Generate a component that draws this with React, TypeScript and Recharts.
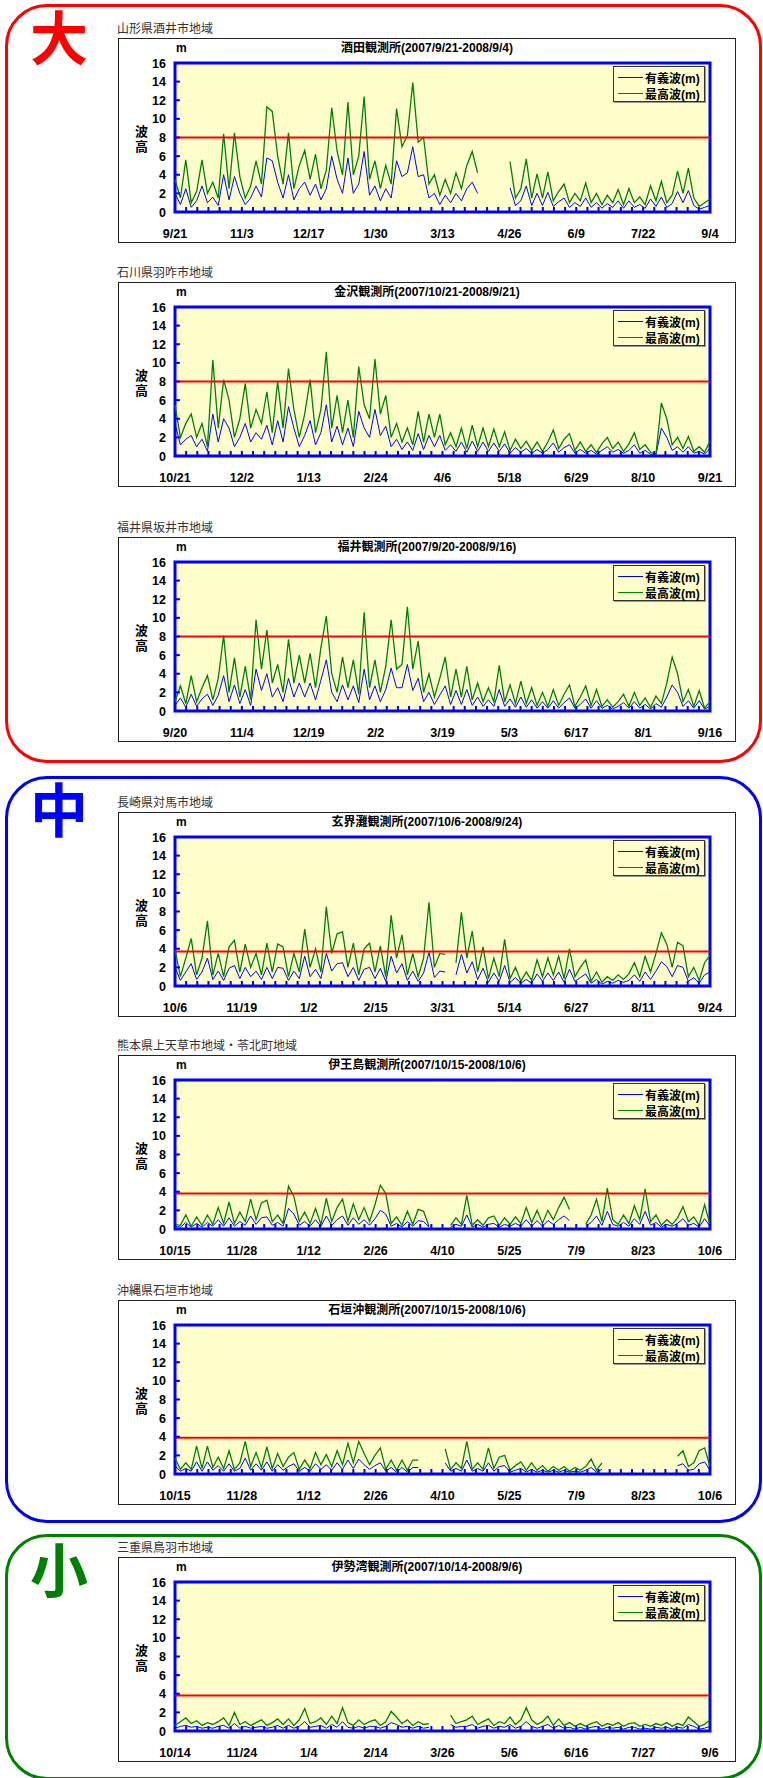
import React from 'react';
import { LineChart, Line, XAxis, YAxis, CartesianGrid, ReferenceLine, ReferenceArea, Legend } from 'recharts';

const FONT = "'Liberation Sans', 'Noto Sans CJK JP', sans-serif";
const JP = "'Noto Sans CJK JP', sans-serif";

const yTicks = [0, 2, 4, 6, 8, 10, 12, 14, 16];
const seriesNames = ['有義波(m)', '最高波(m)'];
const seriesColors = ['#0000ff', '#008000'];

// 酒田
const labels1 = ['9/21', '11/3', '12/17', '1/30', '3/13', '4/26', '6/9', '7/22', '9/4'];
const max1 = [3.5,1.5,5.6,1.0,2.2,5.6,2.0,3.2,1.5,8.4,2.5,8.5,3.8,1.5,2.8,5.5,3.0,11.3,10.8,6.0,3.0,8.5,2.5,5.0,6.6,3.5,6.2,2.5,4.5,11.2,6.5,4.0,11.8,4.0,6.0,12.4,3.5,5.5,2.5,5.0,3.0,11.1,7.0,8.2,13.9,7.5,8.0,3.0,4.0,1.8,3.5,2.0,4.2,2.5,5.0,6.5,4.2,null,null,null,null,null,5.4,1.5,2.5,5.7,1.5,4.1,1.5,4.3,1.2,2.2,3.0,1.0,2.0,1.2,3.1,1.0,2.0,0.8,1.8,1.0,2.4,0.8,2.5,1.0,1.6,0.8,2.8,1.2,3.3,1.0,1.8,4.4,2.0,4.7,1.5,0.6,1.0,1.4];
const sig1 = [2.0,0.8,2.5,0.5,1.2,2.8,1.0,1.6,0.7,4.0,1.3,3.8,2.0,0.8,1.5,2.8,1.6,5.8,5.5,3.2,1.5,4.0,1.3,2.5,3.2,1.8,3.0,1.3,2.5,6.0,3.5,2.0,5.8,2.0,3.0,6.5,1.8,2.8,1.2,2.5,1.5,5.5,3.8,4.2,7.0,3.8,4.0,1.5,2.0,0.8,1.8,1.0,2.0,1.2,2.5,3.2,2.0,null,null,null,null,null,2.6,0.7,1.2,2.8,0.7,2.0,0.7,2.1,0.6,1.1,1.5,0.5,1.0,0.6,1.5,0.5,1.0,0.4,0.9,0.5,1.2,0.4,1.2,0.5,0.8,0.4,1.4,0.6,1.6,0.5,0.9,2.2,1.0,2.3,0.7,0.3,0.5,0.7];

// 金沢
const labels2 = ['10/21', '12/2', '1/13', '2/24', '4/6', '5/18', '6/29', '8/10', '9/21'];
const max2 = [5.5,2.0,3.5,4.5,2.0,3.5,1.0,10.3,3.0,8.2,6.0,2.0,4.0,7.8,3.0,5.0,3.5,6.9,2.5,8.0,3.0,9.4,5.0,2.0,4.5,8.2,2.5,5.0,11.2,3.0,6.5,2.5,6.0,2.0,9.6,5.5,4.0,10.4,4.5,6.5,2.0,3.5,1.5,3.0,1.2,4.8,1.5,4.5,2.0,4.5,1.2,2.5,1.0,3.0,0.8,3.3,1.0,3.0,1.0,2.9,1.0,2.6,0.6,1.8,0.8,1.6,0.6,1.5,0.5,1.5,2.8,0.8,1.8,2.4,0.6,1.5,0.5,1.2,0.4,1.3,2.0,0.8,1.5,0.5,1.3,2.5,0.7,1.2,0.4,0.2,5.7,4.0,1.2,2.0,0.8,2.1,0.5,1.0,0.4,1.6];
const sig2 = [3.5,1.2,1.8,2.2,1.0,1.8,0.5,4.5,1.5,4.0,3.0,1.0,2.0,3.5,1.5,2.5,1.8,3.3,1.2,3.8,1.5,5.3,3.0,1.0,2.2,3.8,1.2,2.5,5.5,1.5,3.2,1.2,3.0,1.0,4.8,3.0,2.0,5.0,2.2,3.2,1.0,1.8,0.7,1.5,0.6,2.4,0.7,2.2,1.0,2.2,0.6,1.2,0.5,1.5,0.4,1.6,0.5,1.5,0.5,1.4,0.5,1.3,0.3,0.9,0.4,0.8,0.3,0.7,0.3,0.7,1.4,0.4,0.9,1.2,0.3,0.7,0.3,0.6,0.2,0.6,1.0,0.4,0.7,0.3,0.6,1.2,0.3,0.6,0.2,0.1,3.0,2.0,0.6,1.0,0.4,1.0,0.3,0.5,0.2,0.8];

// 福井
const labels3 = ['9/20', '11/4', '12/19', '2/2', '3/19', '5/3', '6/17', '8/1', '9/16'];
const max3 = [1.0,2.7,0.8,3.8,1.0,2.5,3.8,1.2,3.5,8.1,2.0,5.7,1.5,4.8,1.2,9.8,4.5,8.7,3.0,5.0,2.0,7.7,3.0,6.0,3.0,6.2,2.5,6.8,10.2,4.0,2.0,5.8,2.5,5.5,1.8,10.6,2.5,5.5,2.0,4.8,9.8,4.5,5.0,11.2,4.5,7.5,2.0,4.0,1.5,3.5,5.8,1.5,4.5,1.5,4.8,1.2,3.0,1.0,2.5,1.0,4.9,1.0,2.8,0.8,3.2,0.8,2.5,0.6,2.0,0.5,2.3,0.6,1.8,2.8,0.5,1.5,2.7,0.6,2.3,0.5,1.2,0.4,1.0,1.8,0.5,2.0,0.6,1.4,0.4,1.6,0.8,3.0,5.8,4.0,1.0,2.3,0.5,2.2,0.3,1.0];
const sig3 = [0.6,1.4,0.4,1.8,0.5,1.3,1.8,0.6,1.7,3.8,1.0,2.8,0.8,2.3,0.6,4.5,2.2,4.0,1.5,2.5,1.0,3.5,1.5,3.0,1.5,3.0,1.2,3.3,5.5,2.0,1.0,2.8,1.2,2.7,0.9,4.5,1.2,2.7,1.0,2.3,4.6,2.5,2.5,5.0,2.2,3.5,1.0,2.0,0.7,1.7,2.7,0.7,2.2,0.7,2.3,0.6,1.5,0.5,1.2,0.5,2.3,0.5,1.3,0.4,1.5,0.4,1.2,0.3,1.0,0.3,1.1,0.3,0.9,1.4,0.3,0.7,1.3,0.3,1.1,0.3,0.6,0.2,0.5,0.9,0.3,1.0,0.3,0.7,0.2,0.8,0.4,1.5,2.8,2.0,0.5,1.1,0.3,1.1,0.2,0.5];

// 玄界灘
const labels4 = ['10/6', '11/19', '1/2', '2/15', '3/31', '5/14', '6/27', '8/11', '9/24'];
const max4 = [3.9,1.0,3.0,5.1,1.2,3.0,7.0,1.2,3.5,1.0,4.2,4.9,1.5,4.5,2.0,3.5,1.2,4.6,1.5,4.5,4.2,1.0,3.5,1.5,6.1,2.0,4.0,1.5,8.5,3.5,5.6,5.8,2.0,4.6,1.2,4.0,4.6,1.5,4.3,1.0,7.6,3.0,5.5,1.2,3.5,1.0,3.0,9.0,2.0,3.5,3.4,null,2.5,7.9,3.0,5.9,1.5,4.2,0.8,3.0,1.0,5.0,0.8,2.0,0.5,1.5,0.6,2.8,1.0,3.0,1.2,3.2,0.8,4.0,1.0,2.0,2.8,0.5,1.5,0.4,1.0,0.6,1.2,0.7,1.3,2.5,1.0,3.2,1.5,3.5,5.7,4.5,2.0,4.7,4.3,1.0,2.0,0.6,2.5,3.3];
const sig4 = [2.0,0.6,1.5,2.4,0.7,1.5,3.0,0.7,1.6,0.6,1.9,2.2,0.8,2.0,1.0,1.6,0.7,2.0,0.8,2.0,1.9,0.6,1.6,0.8,3.2,1.0,1.8,0.8,3.5,1.6,2.4,2.5,1.0,2.0,0.6,1.8,2.0,0.8,1.9,0.5,3.2,1.4,2.4,0.6,1.6,0.5,1.4,3.6,0.9,1.6,1.5,null,1.2,3.4,1.4,2.6,0.7,1.9,0.4,1.4,0.5,2.2,0.4,0.9,0.3,0.7,0.3,1.3,0.5,1.4,0.6,1.5,0.4,1.8,0.5,0.9,1.3,0.3,0.7,0.2,0.5,0.3,0.6,0.4,0.6,1.2,0.5,1.5,0.7,1.6,2.6,2.1,1.0,2.2,2.0,0.5,0.9,0.3,1.2,1.5];

// 伊王島
const labels5 = ['10/15', '11/28', '1/12', '2/26', '4/10', '5/25', '7/9', '8/23', '10/6'];
const max5 = [0.5,0.4,1.5,0.3,1.3,0.4,1.5,0.5,2.3,0.6,2.9,0.6,1.8,0.8,3.2,1.0,2.8,3.1,0.8,1.5,0.6,4.6,3.5,0.8,1.8,0.6,2.2,0.5,3.3,0.8,2.3,3.2,0.8,2.7,1.0,2.3,0.8,2.6,4.7,3.8,0.6,1.3,0.4,1.9,0.5,2.1,1.9,0.3,null,null,null,0.4,1.2,0.5,3.6,0.4,1.0,0.4,1.2,1.4,0.4,1.2,0.5,1.3,0.6,2.3,0.7,2.0,0.6,2.0,1.0,2.3,3.4,2.1,null,null,0.5,1.5,3.2,0.8,4.4,1.0,0.5,1.5,0.6,2.5,1.0,4.3,0.8,1.5,0.4,1.0,0.5,1.2,2.4,0.8,1.3,0.4,2.6,0.5];
const sig5 = [0.3,0.2,0.7,0.2,0.6,0.2,0.7,0.3,1.0,0.3,1.2,0.3,0.8,0.4,1.4,0.5,1.2,1.3,0.4,0.7,0.3,2.2,1.6,0.4,0.8,0.3,1.0,0.3,1.4,0.4,1.0,1.4,0.4,1.2,0.5,1.0,0.4,1.1,2.0,1.6,0.3,0.6,0.2,0.8,0.3,0.9,0.8,0.2,null,null,null,0.2,0.5,0.3,1.5,0.2,0.5,0.2,0.5,0.6,0.2,0.5,0.3,0.6,0.3,1.0,0.3,0.9,0.3,0.9,0.5,1.0,1.4,0.9,null,null,0.3,0.7,1.4,0.4,1.9,0.5,0.3,0.7,0.3,1.1,0.5,1.9,0.4,0.7,0.2,0.5,0.3,0.6,1.1,0.4,0.6,0.2,1.1,0.3];

// 石垣沖
const labels6 = ['10/15', '11/28', '1/12', '2/26', '4/10', '5/25', '7/9', '8/23', '10/6'];
const max6 = [1.7,0.5,1.2,0.5,3.0,0.6,3.0,0.7,1.8,0.6,2.5,0.5,1.2,3.5,0.8,2.3,0.7,2.9,0.6,2.2,0.8,1.8,2.3,0.5,1.5,0.6,2.3,1.0,2.1,0.8,2.5,1.0,3.3,1.2,3.5,2.2,1.0,2.0,2.8,0.5,1.5,0.4,1.5,0.4,1.5,1.5,null,null,null,null,2.7,0.5,1.2,0.6,3.5,0.5,1.2,0.5,2.8,0.6,1.8,2.0,0.4,0.9,1.3,0.4,1.2,0.4,0.9,0.3,0.8,0.4,0.8,0.3,0.7,0.4,0.8,1.6,0.4,1.2,null,null,null,null,null,null,null,null,null,null,null,null,null,1.9,2.5,0.8,1.2,2.5,2.8,0.8];
const sig6 = [0.9,0.3,0.6,0.3,1.3,0.3,1.3,0.4,0.9,0.3,1.1,0.3,0.6,1.7,0.4,1.1,0.4,1.3,0.3,1.0,0.4,0.8,1.1,0.3,0.7,0.3,1.1,0.5,1.0,0.4,1.2,0.5,1.5,0.6,1.6,1.0,0.5,0.9,1.2,0.3,0.7,0.2,0.7,0.2,0.7,0.7,null,null,null,null,1.2,0.3,0.6,0.3,1.5,0.3,0.6,0.3,1.2,0.3,0.8,0.9,0.2,0.4,0.6,0.2,0.5,0.2,0.4,0.2,0.4,0.2,0.4,0.2,0.3,0.2,0.4,0.7,0.2,0.5,null,null,null,null,null,null,null,null,null,null,null,null,null,0.9,1.1,0.4,0.5,1.1,1.3,0.4];

// 伊勢湾
const labels7 = ['10/14', '11/24', '1/4', '2/14', '3/26', '5/6', '6/16', '7/27', '9/6'];
const max7 = [0.6,1.0,1.4,0.8,1.1,0.6,0.9,0.7,1.0,1.4,0.6,2.0,0.7,1.0,0.6,0.9,1.2,0.6,0.9,1.3,0.7,1.3,0.6,1.2,2.4,0.8,1.0,1.4,0.7,1.6,0.8,2.5,0.9,0.6,1.2,0.7,1.0,1.2,0.6,1.0,2.1,1.5,0.8,1.2,0.6,1.0,0.7,0.8,null,null,null,1.7,0.8,1.0,1.2,1.6,0.7,1.0,1.3,0.6,1.0,0.8,1.5,0.7,1.2,2.5,1.2,0.7,1.0,1.6,0.6,1.3,0.6,0.9,0.5,0.8,0.5,0.8,1.0,0.5,0.8,0.6,0.9,0.5,0.8,0.9,0.5,0.7,0.5,0.8,0.6,0.9,0.5,0.8,0.6,1.5,1.0,0.5,0.7,1.2];
const sig7 = [0.3,0.5,0.6,0.4,0.5,0.3,0.4,0.3,0.5,0.6,0.3,0.8,0.3,0.5,0.3,0.4,0.5,0.3,0.4,0.6,0.3,0.6,0.3,0.5,1.0,0.4,0.5,0.6,0.3,0.7,0.4,1.0,0.4,0.3,0.5,0.3,0.5,0.5,0.3,0.5,0.9,0.7,0.4,0.5,0.3,0.5,0.3,0.4,null,null,null,0.7,0.4,0.5,0.5,0.7,0.3,0.5,0.6,0.3,0.5,0.4,0.7,0.3,0.5,1.0,0.5,0.3,0.5,0.7,0.3,0.6,0.3,0.4,0.2,0.4,0.2,0.4,0.5,0.2,0.4,0.3,0.4,0.2,0.4,0.4,0.2,0.3,0.2,0.4,0.3,0.4,0.2,0.4,0.3,0.7,0.5,0.2,0.3,0.5];

const charts = [
  { top: 38, region: '山形県酒井市地域', title: '酒田観測所(2007/9/21-2008/9/4)', labels: labels1, sig: sig1, max: max1, limit: 8 },
  { top: 282, region: '石川県羽咋市地域', title: '金沢観測所(2007/10/21-2008/9/21)', labels: labels2, sig: sig2, max: max2, limit: 8 },
  { top: 537, region: '福井県坂井市地域', title: '福井観測所(2007/9/20-2008/9/16)', labels: labels3, sig: sig3, max: max3, limit: 8 },
  { top: 812, region: '長崎県対馬市地域', title: '玄界灘観測所(2007/10/6-2008/9/24)', labels: labels4, sig: sig4, max: max4, limit: 3.7 },
  { top: 1055, region: '熊本県上天草市地域・苓北町地域', title: '伊王島観測所(2007/10/15-2008/10/6)', labels: labels5, sig: sig5, max: max5, limit: 3.8 },
  { top: 1300, region: '沖縄県石垣市地域', title: '石垣沖観測所(2007/10/15-2008/10/6)', labels: labels6, sig: sig6, max: max6, limit: 3.9 },
  { top: 1557, region: '三重県鳥羽市地域', title: '伊勢湾観測所(2007/10/14-2008/9/6)', labels: labels7, sig: sig7, max: max7, limit: 3.8 },
];

function YTick(props: any) {
  const { x, y, payload } = props;
  return (
    <g>
      <line x1={x} y1={y} x2={x + 5} y2={y} stroke="#0000ff" strokeWidth={2} />
      <text x={x - 9} y={y} dy={4.5} textAnchor="end" fontSize={12.5} fontWeight="bold" fill="#000" fontFamily={FONT}>
        {payload.value}
      </text>
    </g>
  );
}

// legend keeps the sheet's order: 有義波 then 最高波
function LegendBox() {
  return (
    <div style={{ width: 90, height: 32, paddingTop: 2, border: '1px solid #333', background: '#ffffcc', boxShadow: '1px 1px 0 #999' }}>
      {seriesNames.map((name, k) => (
        <div key={name} style={{ display: 'flex', alignItems: 'center', height: 16 }}>
          <div style={{ width: 25, height: 0, borderTop: `1px solid ${seriesColors[k]}`, margin: '0 2px 0 4px' }} />
          <span style={{ fontFamily: FONT, fontSize: 12, fontWeight: 'bold', color: '#000', whiteSpace: 'nowrap' }}>{name}</span>
        </div>
      ))}
    </div>
  );
}

function WaveChart({ top, region, title, labels, sig, max, limit }: any) {
  const n = max.length;
  const data = max.map((m: number | null, i: number) => ({ i, sig: sig[i], max: m }));
  const xTicks = Array.from({ length: 49 }, (_, k) => (k * (n - 1)) / 48);

  const XTick = (props: any) => {
    const { x, y, payload } = props;
    const k = Math.round((payload.value * 48) / (n - 1));
    return (
      <g>
        <line x1={x} y1={y} x2={x} y2={y - 5} stroke="#0000ff" strokeWidth={2} />
        {k % 6 === 0 && (
          <text x={x} y={y + 21} dy={4.5} textAnchor="middle" fontSize={12.5} fontWeight="bold" fill="#000" fontFamily={FONT}>
            {labels[k / 6]}
          </text>
        )}
      </g>
    );
  };

  return (
    <>
      <div style={{ position: 'absolute', left: 117, top: top - 18, fontSize: 12, lineHeight: '16px', color: '#333', fontFamily: JP, whiteSpace: 'nowrap' }}>
        {region}
      </div>
      <div style={{ position: 'absolute', left: 118, top, width: 616, height: 203, border: '1px solid #222', background: '#fff' }}>
        <LineChart width={616} height={203} data={data} margin={{ top: 24, right: 25, left: 0, bottom: 0 }}>
          <CartesianGrid horizontal={false} vertical={false} fill="#ffffcc" />
          <XAxis dataKey="i" type="number" domain={[0, n - 1]} ticks={xTicks} interval={0} height={30}
            axisLine={false} tickLine={false} tickSize={0} tickMargin={0} tick={<XTick />} />
          <YAxis type="number" domain={[0, 16]} ticks={yTicks} interval={0} width={56}
            axisLine={false} tickLine={false} tickSize={0} tickMargin={0} tick={<YTick />} />
          <Legend layout="horizontal" verticalAlign="middle" align="center"
            wrapperStyle={{ left: 494, top: 27, width: 92, height: 36 }}
            content={() => <LegendBox />} />
          <Line type="linear" dataKey="sig" name={seriesNames[0]} stroke={seriesColors[0]} strokeWidth={1} dot={false} activeDot={false} isAnimationActive={false} />
          <Line type="linear" dataKey="max" name={seriesNames[1]} stroke={seriesColors[1]} strokeWidth={1.3} dot={false} activeDot={false} isAnimationActive={false} />
          <ReferenceLine y={limit} stroke="#ff0000" strokeWidth={2} />
          <ReferenceArea x1={0} x2={n - 1} y1={0} y2={16} fill="none" stroke="#0000ff" strokeWidth={3} />
        </LineChart>
        <div style={{ position: 'absolute', left: 0, top: 1, width: 616, textAlign: 'center', fontSize: 12, lineHeight: '16px', fontWeight: 'bold', fontFamily: FONT, color: '#000', whiteSpace: 'nowrap' }}>
          {title}
        </div>
        <div style={{ position: 'absolute', left: 57, top: 1, fontSize: 12, lineHeight: '16px', fontWeight: 'bold', fontFamily: FONT }}>m</div>
        <div style={{ position: 'absolute', left: 14, top: 86, writingMode: 'vertical-rl', textOrientation: 'upright', letterSpacing: 2, fontSize: 13, lineHeight: '16px', fontWeight: 'bold', fontFamily: JP }}>
          波高
        </div>
      </div>
    </>
  );
}

function Panel({ top, height, color, char, charTop }: any) {
  return (
    <>
      <div style={{ position: 'absolute', left: 5, top, width: 757, height, boxSizing: 'border-box', border: `3px solid ${color}`, borderRadius: 42 }} />
      <div style={{ position: 'absolute', left: 29, top: charTop, width: 60, fontSize: 58, lineHeight: 1.1, textAlign: 'center', fontWeight: 'bold', color, fontFamily: JP }}>
        {char}
      </div>
    </>
  );
}

export default function App() {
  return (
    <div style={{ position: 'absolute', left: 0, top: 0, width: 763, height: 1778, background: '#fff', overflow: 'hidden' }}>
      <Panel top={4} height={759} color="#ff0000" char="大" charTop={4} />
      <Panel top={776} height={747} color="#0000ff" char="中" charTop={776} />
      <Panel top={1534} height={246} color="#008000" char="小" charTop={1536} />
      {charts.map((c) => (
        <WaveChart key={c.title} {...c} />
      ))}
    </div>
  );
}
